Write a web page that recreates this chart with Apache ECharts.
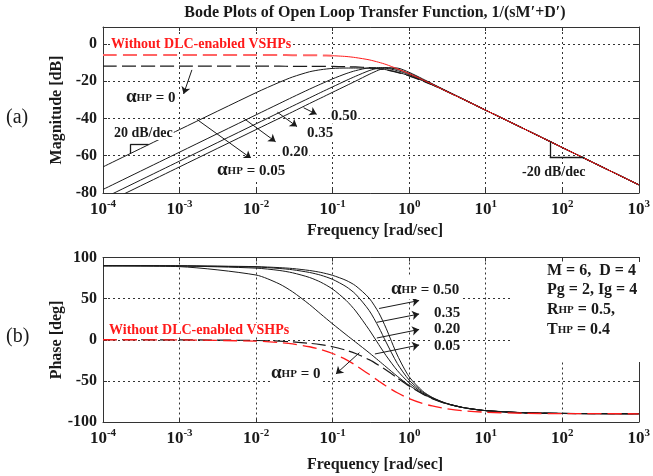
<!DOCTYPE html>
<html>
<head>
<meta charset="utf-8">
<script src="https://cdn.jsdelivr.net/npm/echarts@6/dist/echarts.min.js"></script>
<style>
  html, body { margin: 0; padding: 0; background: #fff; }
  #chart { width: 653px; height: 476px; }
</style>
</head>
<body>
<div id="chart"></div>
<script>
// Frequency samples [rad/s]
const freq = [1e-4, 1e-3, 0.01, 0.02, 0.03, 0.05, 0.07, 0.1, 0.15, 0.2, 0.3, 0.4, 0.5, 0.7, 1, 1.5, 2, 3, 5, 10, 30, 100, 1000];

// Magnitude [dB]
const magNoDLC = [-6.0, -6.0, -6.0, -6.0, -6.1, -6.1, -6.2, -6.4, -6.8, -7.4, -8.6, -9.9, -11.1, -13.4, -16.0, -19.3, -21.7, -25.3, -29.6, -35.6, -45.1, -55.6, -75.6];
const magA0    = [-12.0, -12.0, -12.0, -12.0, -12.1, -12.1, -12.1, -12.1, -12.3, -12.4, -12.8, -13.4, -14.0, -15.3, -17.2, -19.9, -22.0, -25.3, -29.6, -35.6, -45.1, -55.6, -75.6];
const magA005  = [-66.0, -46.0, -26.2, -20.7, -17.8, -15.0, -13.9, -13.2, -13.0, -13.0, -13.1, -13.4, -13.9, -15.2, -17.1, -19.8, -22.0, -25.3, -29.6, -35.6, -45.1, -55.6, -75.6];
const magA020  = [-78.1, -58.1, -38.1, -32.1, -28.6, -24.3, -21.6, -18.8, -16.0, -14.4, -12.9, -12.8, -13.1, -14.4, -16.5, -19.5, -21.8, -25.2, -29.6, -35.6, -45.1, -55.6, -75.6];
const magA035  = [-82.9, -62.9, -42.9, -36.9, -33.4, -29.0, -26.1, -23.1, -19.7, -17.4, -14.4, -13.0, -12.8, -13.7, -15.9, -19.2, -21.6, -25.1, -29.5, -35.6, -45.1, -55.6, -75.6];
const magA050  = [-86.0, -66.0, -46.0, -40.0, -36.5, -32.0, -29.1, -26.0, -22.5, -20.0, -16.4, -14.1, -12.9, -13.0, -15.3, -18.8, -21.4, -25.0, -29.5, -35.6, -45.1, -55.6, -75.6];

// Phase [deg]
const phNoDLC = [0, -0.2, -1.7, -3.4, -5.1, -8.5, -11.9, -16.7, -24.2, -31.0, -42.0, -50.2, -56.3, -64.5, -71.6, -77.5, -80.5, -83.7, -86.2, -88.1, -89.4, -89.8, -90.0];
const phA0    = [0, -0.1, -0.9, -1.7, -2.6, -4.3, -6.0, -8.5, -12.7, -16.7, -24.2, -31.0, -36.9, -46.4, -56.3, -66.0, -71.6, -77.5, -82.4, -86.2, -88.7, -89.6, -90.0];
const phA005  = [89.9, 88.9, 78.7, 68.0, 58.3, 42.8, 31.3, 19.3, 6.2, -2.9, -15.8, -25.4, -33.0, -44.4, -55.4, -65.7, -71.4, -77.4, -82.4, -86.2, -88.7, -89.6, -90.0];
const phA020  = [90.0, 89.7, 87.1, 84.3, 81.4, 75.7, 70.0, 61.6, 47.9, 35.0, 12.2, -5.7, -19.3, -37.4, -52.4, -64.7, -71.0, -77.3, -82.4, -86.2, -88.7, -89.6, -90.0];
const phA035  = [90.0, 89.8, 88.4, 86.7, 85.1, 81.8, 78.5, 73.4, 64.6, 55.4, 35.6, 15.4, -2.9, -28.8, -49.0, -63.6, -70.5, -77.1, -82.3, -86.2, -88.7, -89.6, -90.0];
const phA050  = [90.0, 89.9, 88.9, 87.7, 86.6, 84.2, 81.9, 78.3, 72.2, 65.6, 50.6, 33.0, 14.0, -18.6, -45.0, -62.4, -70.0, -77.0, -82.3, -86.2, -88.7, -89.6, -90.0];

// Axis ticks
const decadeExponents = [-4, -3, -2, -1, 0, 1, 2, 3];
const magTicks = [-80, -60, -40, -20, 0];
const phaseTicks = [-100, -50, 0, 50, 100];

const SERIF = "'Liberation Serif', 'Times New Roman', serif";
const INK = '#1a1a1a';
const RED = '#ff1a1a';

const pts = (ys) => freq.map((f, i) => [f, ys[i]]);
const ptsWhere = (ys, keep) => freq.map((f, i) => [f, ys[i]]).filter(p => keep(p[0]));

const chart = echarts.init(document.getElementById('chart'), null, { renderer: 'canvas' });

const gridLine = { show: true, lineStyle: { color: '#333', type: [2, 3], width: 1 } };
const frameLine = { show: true, onZero: false, lineStyle: { color: '#333', width: 1 } };
const innerTick = { show: true, inside: true, length: 4, lineStyle: { color: '#333', width: 1 } };

function freqAxes(gi) {
  return [
    {
      type: 'log', logBase: 10, gridIndex: gi, min: 1e-4, max: 1e3, splitNumber: 7,
      axisLine: frameLine, axisTick: innerTick,
      splitLine: gridLine, minorTick: { show: false }, minorSplitLine: { show: false },
      axisLabel: {
        margin: 3,
        formatter: (v) => {
          const e = Math.round(Math.log10(v));
          return decadeExponents.includes(e) ? '{b|10}{s|' + e + '}' : '';
        },
        rich: {
          // exponent raised by bottom padding so it sits as a superscript
          b: { fontFamily: SERIF, fontWeight: 'bold', fontSize: 17, lineHeight: 22, verticalAlign: 'bottom', color: INK },
          s: { fontFamily: SERIF, fontWeight: 'bold', fontSize: 11, lineHeight: 11, padding: [0, 0, 8, 0], verticalAlign: 'bottom', color: INK }
        }
      }
    },
    {
      type: 'log', logBase: 10, gridIndex: gi, min: 1e-4, max: 1e3, splitNumber: 7, position: 'top',
      axisLine: frameLine, axisTick: innerTick, axisLabel: { show: false },
      splitLine: { show: false }, minorTick: { show: false }
    }
  ];
}

function valueAxes(gi, min, max, interval, ticks) {
  return [
    {
      type: 'value', gridIndex: gi, min, max, interval,
      axisLine: frameLine, axisTick: innerTick, splitLine: gridLine,
      axisLabel: {
        margin: 6, fontFamily: SERIF, fontWeight: 'bold', fontSize: 16, color: INK,
        formatter: (v) => ticks.includes(v) ? String(v) : ''
      }
    },
    {
      type: 'value', gridIndex: gi, min, max, interval, position: 'right',
      axisLine: frameLine, axisTick: innerTick, axisLabel: { show: false }, splitLine: { show: false }
    }
  ];
}

const blackLine = { color: INK, width: 1 };
function curve(name, data, xi, yi, lineStyle, extra) {
  return Object.assign({
    name, type: 'line', data, xAxisIndex: xi, yAxisIndex: yi,
    showSymbol: false, symbol: 'none', smooth: 0.25, clip: true,
    lineStyle, animation: false, z: 3
  }, extra || {});
}

const arrowStyle = { color: INK, width: 1, type: 'solid' };
const arrowLines = (data) => ({
  silent: true, symbol: ['none', 'arrow'], symbolSize: 7, animation: false,
  label: { show: false }, lineStyle: arrowStyle, data
});
const plainLines = (data) => ({
  silent: true, symbol: ['none', 'none'], animation: false,
  label: { show: false }, lineStyle: { color: INK, width: 1.3, type: 'solid' }, data
});
const seg = (a, b, curveness) => {
  const s = { coord: a };
  if (curveness) s.lineStyle = { curveness };
  return [s, { coord: b }];
};

const series = [
  // Magnitude plot
  curve('mag 0.05', pts(magA005), 0, 0, blackLine, {
    markLine: arrowLines([
      seg([1.45e-3, -14.0], [1.13e-3, -26.9], 0.45),
      seg([0.0418, -34.3], [0.0619, -37.8]),
      seg([0.019, -36.7], [0.0343, -44.4]),
      seg([7.06e-3, -40.3], [0.018, -52.5]),
      seg([1.68e-3, -40.5], [8.6e-3, -61.4])
    ])
  }),
  curve('mag 0.20', pts(magA020), 0, 0, blackLine),
  curve('mag 0.35', pts(magA035), 0, 0, blackLine),
  curve('mag 0.50', pts(magA050), 0, 0, blackLine, {
    markLine: plainLines([
      seg([2.27e-4, -58.9], [2.27e-4, -53.9]),
      seg([2.27e-4, -53.9], [3.94e-4, -53.9]),
      seg([68.9, -52.4], [68.9, -61.1]),
      seg([68.9, -61.1], [194.5, -61.1])
    ])
  }),
  curve('mag 0', pts(magA0), 0, 0, { color: INK, width: 1.2, type: [14, 5] }),
  curve('mag no DLC low', ptsWhere(magNoDLC, f => f <= 0.1), 0, 0, { color: '#ff6464', width: 2, type: [14, 6] }, { z: 4 }),
  curve('mag no DLC high', ptsWhere(magNoDLC, f => f >= 0.1), 0, 0, { color: RED, width: 1 }, { z: 4 }),

  // Phase plot
  curve('ph 0.05', pts(phA005), 2, 2, blackLine, {
    markLine: arrowLines([
      seg([0.224, -15.7], [0.1105, -41.6], 0.5),
      seg([0.405, 38.0], [1.35, 47.7]),
      seg([0.378, 21.2], [1.35, 31.3]),
      seg([0.378, 2.1], [1.35, 12.5]),
      seg([0.357, -17.3], [1.35, -6.4])
    ])
  }),
  curve('ph 0.20', pts(phA020), 2, 2, blackLine),
  curve('ph 0.35', pts(phA035), 2, 2, blackLine),
  curve('ph 0.50', pts(phA050), 2, 2, blackLine),
  curve('ph 0', pts(phA0), 2, 2, { color: INK, width: 1.2, type: [14, 5] }),
  curve('ph no DLC', pts(phNoDLC), 2, 2, { color: RED, width: 1.3, type: [14, 6] }, { z: 4 })
];

// Text helpers
const bold = (size) => `bold ${size}px ${SERIF}`;
const rtok = (size, raise) => ({
  fontFamily: SERIF, fontWeight: 'bold', fontSize: size, lineHeight: Math.round(size * 1.15),
  verticalAlign: 'bottom', padding: [0, 0, raise || 0, 0], fill: INK
});
// small capitals in "αHP", "RHP", "THP" sit on the common baseline
const alphaRich = { a: rtok(19), h: rtok(11, 3), t: rtok(15, 1) };
const paramRich = { c: rtok(16), h: rtok(11, 2), t: rtok(16) };

function label(x, y, text, style, extra) {
  return Object.assign({
    type: 'text', x, y, z: 10,
    style: Object.assign({
      text, font: bold(15), fill: INK, align: 'left', verticalAlign: 'middle',
      backgroundColor: '#fff', padding: [0, 1]
    }, style || {})
  }, extra || {});
}

const graphics = [
  // Title and axis titles
  label(375, 13, 'Bode Plots of Open Loop Transfer Function, 1/(sM\u2032+D\u2032)', { font: bold(16), align: 'center', backgroundColor: null }),
  label(375, 231, 'Frequency [rad/sec]', { font: bold(16), align: 'center', backgroundColor: null }),
  label(375, 465, 'Frequency [rad/sec]', { font: bold(16), align: 'center', backgroundColor: null }),
  label(57, 110, 'Magnitude [dB]', { font: bold(16), align: 'center', backgroundColor: null }, { rotation: Math.PI / 2 }),
  label(57, 340, 'Phase [deg]', { font: bold(16), align: 'center', backgroundColor: null }, { rotation: Math.PI / 2 }),
  label(5, 118, '(a)', { font: `20px ${SERIF}`, backgroundColor: null }),
  label(5, 337, '(b)', { font: `20px ${SERIF}`, backgroundColor: null }),

  // Magnitude annotations
  label(110, 44, 'Without DLC-enabled VSHPs', { font: bold(14), fill: RED }),
  label(125, 96, '{a|\u03b1}{h|HP}{t| = 0}', { rich: alphaRich }),
  label(330, 116, '0.50'),
  label(306, 133, '0.35'),
  label(281, 152, '0.20'),
  label(216, 169, '{a|\u03b1}{h|HP}{t| = 0.05}', { rich: alphaRich }),
  label(113, 133, '20 dB/dec', { font: bold(14) }),
  label(521, 172, '-20 dB/dec', { font: bold(14) }),

  // Phase annotations
  label(108, 330, 'Without DLC-enabled VSHPs', { font: bold(14), fill: RED }),
  label(270, 372, '{a|\u03b1}{h|HP}{t| = 0}', { rich: alphaRich }),
  label(390, 288, '{a|\u03b1}{h|HP}{t| = 0.50}', { rich: alphaRich }),
  label(433, 313, '0.35'),
  label(433, 329, '0.20'),
  label(433, 346, '0.05'),

  // Parameter box
  { type: 'rect', z: 1, shape: { x: 512, y: 262, width: 129, height: 100 }, style: { fill: '#fff' } },
  label(546, 271, 'M = 6,  D = 4', { font: bold(16) }),
  label(546, 290, 'Pg = 2, Ig = 4', { font: bold(16) }),
  label(546, 309, '{c|R}{h|HP}{t| = 0.5,}', { rich: paramRich }),
  label(546, 329, '{c|T}{h|HP}{t| = 0.4}', { rich: paramRich })
];

chart.setOption({
  animation: false,
  backgroundColor: '#fff',
  grid: [
    { left: 103, right: 6, top: 27, height: 166 },
    { left: 103, right: 6, top: 257.5, height: 164.5 }
  ],
  xAxis: [...freqAxes(0), ...freqAxes(1)],
  yAxis: [...valueAxes(0, -80, 9, 20, magTicks), ...valueAxes(1, -100, 100, 50, phaseTicks)],
  series,
  graphic: { elements: graphics }
});
</script>
</body>
</html>
